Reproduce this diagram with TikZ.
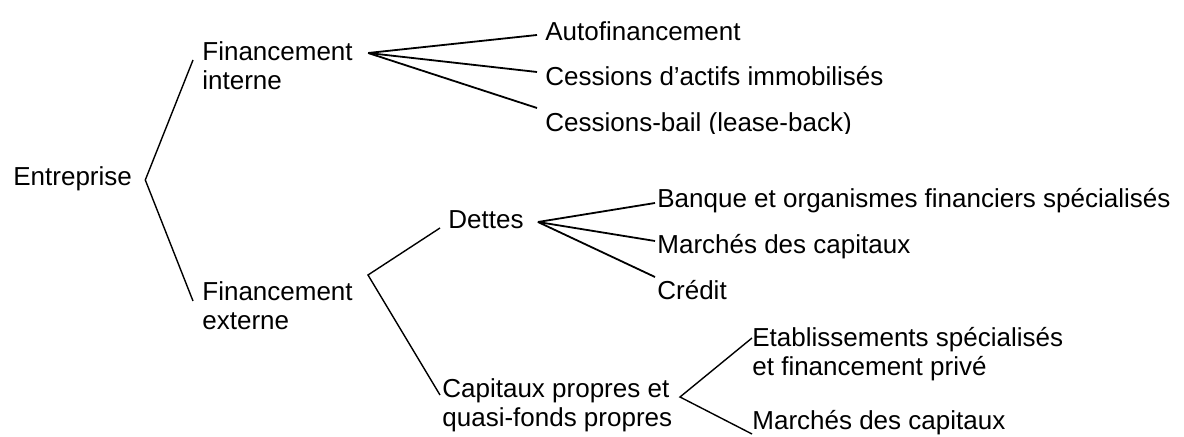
\documentclass[tikz,border=0pt]{standalone}
\usepackage{fontspec}
\setmainfont{Liberation Sans}
\usetikzlibrary{calc}
\newcommand\twolines[2]{\vtop{\baselineskip=14.5pt\hbox{#1}\hbox{#2}}}
\begin{document}
\begin{tikzpicture}[x=0.5pt,y=-0.5pt,
  lbl/.style={anchor=base west, inner sep=0pt, font=\fontsize{13}{14.5}\selectfont},
  bracket/.style={line width=0.7pt, line join=miter},
  fan/.style={line width=0.9pt, line join=miter}]
\useasboundingbox (0,0) rectangle (1184,437);

% nodes
\node[lbl] (ent) at (13,186) {Entreprise};
\node[lbl] (fint) at (202,61) {\twolines{Financement}{interne}};
\node[lbl] (fext) at (202,301) {\twolines{Financement}{externe}};
\node[lbl] (dettes) at (448,229) {Dettes};
\node[lbl] (cap) at (442,398) {\twolines{Capitaux propres et}{quasi-fonds propres}};
\node[lbl] (auto) at (545,41) {Autofinancement};
\node[lbl] (cess) at (545,86) {Cessions d’actifs immobilisés};
\begin{scope}
  \clip (530,100) rectangle (900,133.5);
  \node[lbl] (cbail) at (545,132) {Cessions-bail (lease-back)};
\end{scope}
\node[lbl] (banque) at (657,208) {Banque et organismes financiers spécialisés};
\node[lbl] (marchA) at (657,254) {Marchés des capitaux};
\node[lbl] (credit) at (657,300) {Crédit};
\node[lbl] (etab) at (752,347) {\twolines{Etablissements spécialisés}{et financement privé}};
\node[lbl] (marchB) at (752,430) {Marchés des capitaux};

% branching points and line ends
\coordinate (entv) at ($(ent.base east)+(13,-6)$);
\coordinate (fintE) at ($(fint.base west)+(-9,-1)$);
\coordinate (fextE) at ($(fext.base west)+(-9,0)$);
\coordinate (fintv) at ($(fint.base east)+(15,-8)$);
\coordinate (autoE) at ($(auto.base west)+(-8,-6)$);
\coordinate (cessE) at ($(cess.base west)+(-8,-14)$);
\coordinate (cbailE) at ($(cbail.base west)+(-8,-24)$);
\coordinate (fextv) at ($(fext.base west)+(166,-26)$);
\coordinate (dettesE) at ($(dettes.base west)+(-8,-1)$);
\coordinate (capE) at ($(cap.base west)+(-2,-3)$);
\coordinate (dettesv) at ($(dettes.base east)+(14,-7)$);
\coordinate (banqueE) at ($(banque.base west)+(-2,-5)$);
\coordinate (marchAE) at ($(marchA.base west)+(-2,-13)$);
\coordinate (creditE) at ($(credit.base west)+(-2,-23)$);
\coordinate (capv) at ($(cap.base west)+(238,-1)$);
\coordinate (etabE) at ($(etab.base west)+(0,-9)$);
\coordinate (marchBE) at ($(marchB.base west)+(0,4)$);

% connectors
\draw[bracket] (fintE) -- (entv) -- (fextE);
\draw[fan] (fintv) -- (autoE);
\draw[fan] (fintv) -- (cessE);
\draw[fan] (fintv) -- (cbailE);
\draw[bracket] (dettesE) -- (fextv) -- (capE);
\draw[fan] (dettesv) -- (banqueE);
\draw[fan] (dettesv) -- (marchAE);
\draw[fan] (dettesv) -- (creditE);
\draw[bracket] (etabE) -- (capv) -- (marchBE);
\end{tikzpicture}
\end{document}
